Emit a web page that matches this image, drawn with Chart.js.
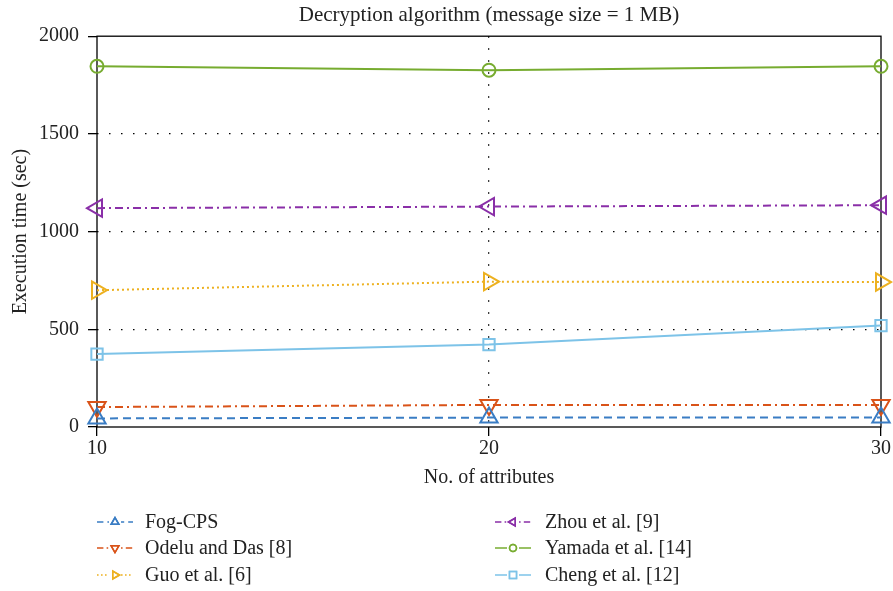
<!DOCTYPE html>
<html>
<head>
<meta charset="utf-8">
<script src="https://cdn.jsdelivr.net/npm/chart.js@4"></script>
<style>
  html, body { margin: 0; padding: 0; background: #fff; }
  #wrap { width: 893px; height: 591px; }
</style>
</head>
<body>
<div id="wrap"><canvas id="c" width="893" height="591"></canvas></div>
<script>
// Number of attributes on the x axis
const attributes = [10, 20, 30];
// Decryption time (sec) per scheme
const fogCps   = [44, 48, 49];
const odelu    = [102, 113, 113];
const guo      = [700, 744, 742];
const zhou     = [1120, 1128, 1135];
const yamada   = [1846, 1826, 1846];
const cheng    = [373, 422, 519];
const yTicks   = [0, 500, 1000, 1500, 2000];
const xTicks   = [10, 20, 30];

const FONT = '"Liberation Serif", "Times New Roman", serif';
const TEXT = '#222';

function pts(vals) { return attributes.map((x, i) => ({ x: x, y: vals[i] })); }

function series(label, vals, color, dash, style, rot, radius) {
  return {
    label: label,
    data: pts(vals),
    borderColor: color,
    backgroundColor: 'rgba(0,0,0,0)',
    borderWidth: 2,
    borderDash: dash,
    pointStyle: style,
    rotation: rot,
    pointRadius: radius,
    pointHoverRadius: radius,
    pointBorderWidth: 2,
    pointBorderColor: color,
    pointBackgroundColor: 'rgba(0,0,0,0)',
    tension: 0,
    clip: false
  };
}

const datasets = [
  series('Fog-CPS',             fogCps, '#3A7DC4', [8, 5],        'triangle', 0,   10),
  series('Odelu and Das [8]',   odelu,  '#D95319', [8, 4, 2, 4],  'triangle', 180, 10),
  series('Guo et al. [6]',      guo,    '#EDB120', [2, 3],        'triangle', 90,  10),
  series('Zhou et al. [9]',     zhou,   '#8A2FA8', [8, 4, 2, 4],  'triangle', 270, 10),
  series('Yamada et al. [14]',  yamada, '#77AC30', [],            'circle',   0,   6.5),
  series('Cheng et al. [12]',   cheng,  '#7DC3E8', [],            'rect',     0,   8)
];

// Small line-and-marker samples used by the legend
const legendMarker = { triangle: 4.5, circle: 3.5, rect: 5 };

// Solid box around the plot area
const frame = {
  id: 'frame',
  beforeDatasetsDraw(chart) {
    const a = chart.chartArea, ctx = chart.ctx;
    ctx.save();
    ctx.strokeStyle = '#000';
    ctx.lineWidth = 1.3;
    ctx.setLineDash([]);
    ctx.strokeRect(a.left, a.top, a.right - a.left, a.bottom - a.top);
    ctx.restore();
  }
};

// Two-column legend below the axes
const legendGrid = {
  id: 'legendGrid',
  afterDraw(chart) {
    const ctx = chart.ctx;
    const cols = [{ x0: 97, x1: 133, tx: 145 }, { x0: 495, x1: 531, tx: 545 }];
    const rows = [522, 548, 575];
    ctx.save();
    chart.data.datasets.forEach((ds, i) => {
      const col = cols[Math.floor(i / 3)];
      const y = rows[i % 3];
      ctx.strokeStyle = ds.borderColor;
      ctx.lineWidth = 1.5;
      ctx.setLineDash(ds.borderDash.length ? ds.borderDash.map(v => v * 0.8) : []);
      ctx.beginPath();
      ctx.moveTo(col.x0, y);
      ctx.lineTo(col.x1, y);
      ctx.stroke();
      ctx.setLineDash([]);
      const cx = (col.x0 + col.x1) / 2;
      ctx.fillStyle = '#fff';
      ctx.fillRect(cx - 6, y - 6, 12, 12);
      Chart.helpers.drawPoint(ctx, {
        pointStyle: ds.pointStyle,
        rotation: ds.rotation,
        radius: legendMarker[ds.pointStyle],
        borderWidth: 1.5
      }, cx, y);
      ctx.strokeStyle = ds.borderColor;
      ctx.lineWidth = 1.5;
      ctx.stroke();
      ctx.fillStyle = TEXT;
      ctx.font = '20px ' + FONT;
      ctx.textBaseline = 'middle';
      ctx.textAlign = 'left';
      ctx.fillText(ds.label, col.tx, y + 1);
    });
    ctx.restore();
  }
};

new Chart(document.getElementById('c'), {
  type: 'line',
  data: { datasets: datasets },
  plugins: [frame, legendGrid],
  options: {
    responsive: false,
    animation: false,
    events: [],
    layout: { padding: { top: 0, right: 8, bottom: 101, left: 0 } },
    plugins: {
      legend: { display: false },
      tooltip: { enabled: false },
      title: {
        display: true,
        fullSize: false,
        text: 'Decryption algorithm (message size = 1 MB)',
        color: TEXT,
        font: { family: FONT, size: 21, weight: 'normal' },
        padding: { top: 2.5, bottom: 8.5 }
      }
    },
    scales: {
      x: {
        type: 'linear',
        min: 10, max: 30,
        afterBuildTicks(s) { s.ticks = xTicks.map(v => ({ value: v })); },
        afterFit(s) { s.height = 63; s.paddingLeft = 0; s.paddingRight = 0; },
        ticks: { color: TEXT, font: { family: FONT, size: 20 }, padding: 1, callback: v => String(v) },
        grid: {
          color: ctx => (ctx.tick && ctx.tick.value === 20) ? '#000' : 'rgba(0,0,0,0)',
          lineWidth: 1.3,
          tickColor: '#000',
          tickLength: 9,
          tickBorderDash: [],
          tickWidth: 1.3
        },
        border: { display: false, dash: [1.5, 10.5] },
        title: {
          display: true,
          text: 'No. of attributes',
          color: TEXT,
          font: { family: FONT, size: 20 },
          padding: { top: 0, bottom: 0 }
        }
      },
      y: {
        min: 0, max: 2000,
        afterBuildTicks(s) { s.ticks = yTicks.map(v => ({ value: v })); },
        afterFit(s) { s.width = 97; s.paddingTop = 0; s.paddingBottom = 0; },
        ticks: { color: TEXT, font: { family: FONT, size: 20 }, padding: 9, callback: v => String(v) },
        grid: {
          color: ctx => (ctx.tick && ctx.tick.value > 0 && ctx.tick.value < 2000) ? '#000' : 'rgba(0,0,0,0)',
          lineWidth: 1.3,
          tickColor: '#000',
          tickLength: 9,
          tickBorderDash: [],
          tickWidth: 1.3
        },
        border: { display: false, dash: [1.5, 10.5] },
        title: {
          display: true,
          text: 'Execution time (sec)',
          color: TEXT,
          font: { family: FONT, size: 20 },
          padding: { top: 9, bottom: 0 }
        }
      }
    }
  }
});
</script>
</body>
</html>
